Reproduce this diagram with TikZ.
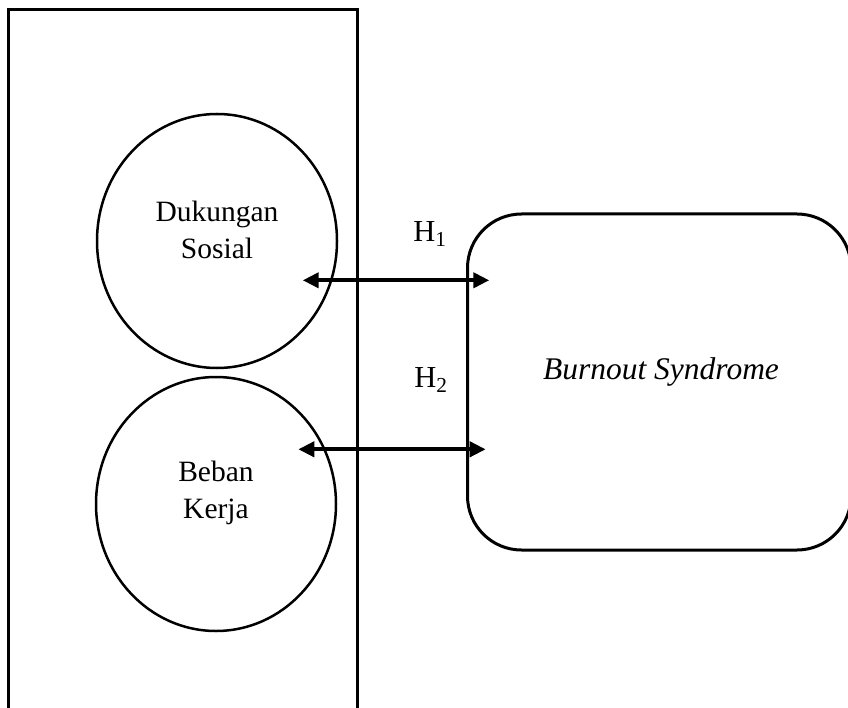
\documentclass[tikz,border=0pt]{standalone}
\usepackage{fontspec}
\setmainfont{Liberation Serif}
\usetikzlibrary{arrows.meta,shapes.geometric}
\begin{document}
\begin{tikzpicture}[x=1pt,y=-1pt,
  frame/.style={draw, line width=3pt},
  var/.style={draw, ellipse, line width=2.5pt, minimum width=240pt, minimum height=254pt, inner sep=0pt},
  vtext/.style={font=\fontsize{29.5}{37}\selectfont, align=center},
  outcome/.style={draw, line width=3pt, rounded corners=54pt},
  link/.style={line width=4pt, {Triangle[length=16pt,width=15pt]}-{Triangle[length=16pt,width=15pt]}},
  hlabel/.style={font=\fontsize{30.5}{36}\selectfont, inner sep=0pt}
]
\useasboundingbox (0,0) rectangle (848,708);
\clip (0,0) rectangle (848,708);
\draw[frame] (8.5,9.5) rectangle (357.5,725);
\node[var] (ds) at (217,241) {};
\node[vtext] at (217,230) {Dukungan\\Sosial};
\node[var] (bk) at (216,504) {};
\node[vtext] at (216,493) {Beban\\Kerja};
\draw[outcome] (467.5,214) rectangle (851,550);
\node[font=\fontsize{31.5}{36}\selectfont\itshape] (bs) at (661,372) {Burnout Syndrome};
\coordinate (a1l) at (302.7,280.3);
\coordinate (a1r) at (489.3,280.3);
\coordinate (a2l) at (298.3,449.3);
\coordinate (a2r) at (485.7,449.3);
\draw[link] (a1l) -- (a1r);
\draw[link] (a2l) -- (a2r);
\node[hlabel] (h1) at (430,234) {H\textsubscript{1}};
\node[hlabel] (h2) at (431,380) {H\textsubscript{2}};
\end{tikzpicture}
\end{document}
